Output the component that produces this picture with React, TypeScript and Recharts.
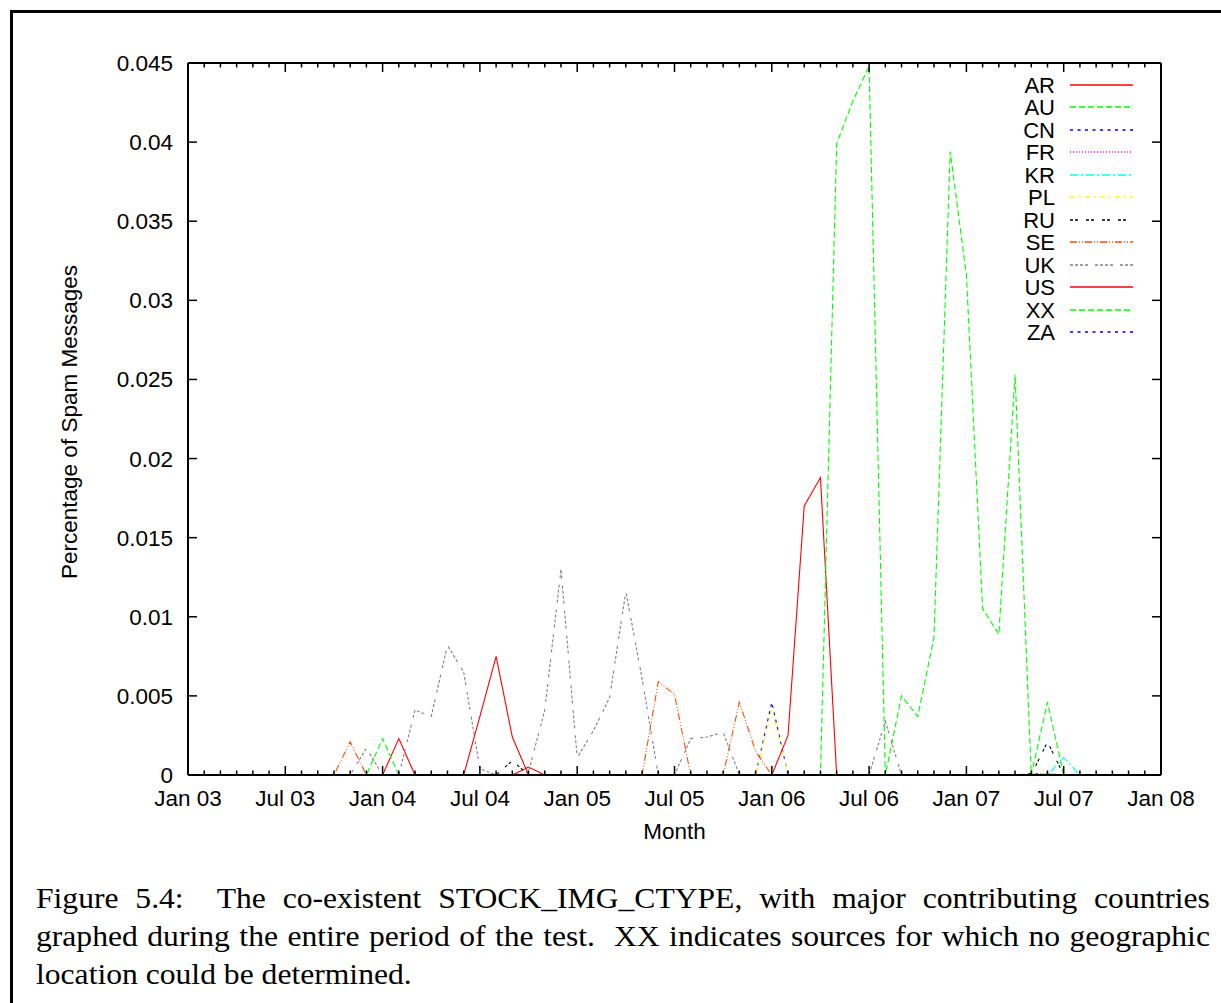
import { LineChart, Line, XAxis, YAxis } from 'recharts';

// x axis: months since Jan 03 (0 .. 60)
const MONTH_LABELS = ['Jan 03', 'Jul 03', 'Jan 04', 'Jul 04', 'Jan 05', 'Jul 05', 'Jan 06', 'Jul 06', 'Jan 07', 'Jul 07', 'Jan 08'];
const MONTH_TICKS = Array.from({ length: 61 }, (_, i) => i);
const Y_TICKS = [0, 0.005, 0.01, 0.015, 0.02, 0.025, 0.03, 0.035, 0.04, 0.045];
const Y_TICK_LABELS = ['0', '0.005', '0.01', '0.015', '0.02', '0.025', '0.03', '0.035', '0.04', '0.045'];

// one value per month, Jan 03 .. Sep 07 (one row per year)
const AR = [
  0, 0, 0, 0, 0, 0, 0, 0, 0, 0, 0, 0,
  0, 0.0023, 0, 0, 0, 0, 0, 0, 0, 0.0005, 0, 0,
  0, 0, 0, 0, 0, 0, 0, 0, 0, 0, 0, 0,
  0, 0, 0, 0, 0, 0, 0, 0, 0, 0, 0, 0,
  0, 0, 0, 0, 0, 0, 0, 0, 0,
];
const AU = [
  0, 0, 0, 0, 0, 0, 0, 0, 0, 0, 0, 0,
  0.0023, 0, 0, 0, 0, 0, 0, 0, 0, 0, 0, 0,
  0, 0, 0, 0, 0, 0, 0, 0, 0, 0, 0, 0,
  0, 0, 0, 0, 0, 0, 0, 0, 0, 0, 0, 0,
  0, 0, 0, 0, 0, 0, 0, 0, 0,
];
const CN = [
  0, 0, 0, 0, 0, 0, 0, 0, 0, 0, 0, 0,
  0, 0, 0, 0, 0, 0, 0, 0, 0, 0, 0, 0,
  0, 0, 0, 0, 0, 0, 0, 0, 0, 0, 0, 0,
  0.0046, 0, 0, 0, 0, 0, 0, 0, 0, 0, 0, 0,
  0, 0, 0, 0, 0, 0, 0, 0, 0,
];
const FR = [
  0, 0, 0, 0, 0, 0, 0, 0, 0, 0, 0, 0,
  0, 0, 0, 0, 0, 0, 0, 0, 0, 0, 0, 0,
  0, 0, 0, 0, 0, 0, 0, 0, 0, 0, 0, 0,
  0, 0, 0, 0, 0, 0, 0, 0, 0, 0, 0, 0,
  0, 0, 0, 0, 0, 0.0001, 0, 0, 0,
];
const KR = [
  0, 0, 0, 0, 0, 0, 0, 0, 0, 0, 0, 0,
  0, 0, 0, 0, 0, 0, 0, 0, 0, 0, 0, 0,
  0, 0, 0, 0, 0, 0, 0, 0, 0, 0, 0, 0,
  0, 0, 0, 0, 0, 0, 0, 0, 0, 0, 0, 0,
  0, 0, 0, 0, 0, 0, 0.0011, 0, 0,
];
const PL = [
  0, 0, 0, 0, 0, 0, 0, 0, 0, 0, 0, 0,
  0, 0, 0, 0, 0, 0, 0, 0, 0, 0, 0, 0,
  0, 0, 0, 0, 0, 0, 0, 0, 0, 0, 0, 0,
  0.0041, 0, 0, 0, 0, 0, 0, 0, 0, 0, 0, 0,
  0, 0, 0, 0, 0, 0, 0, 0, 0,
];
const RU = [
  0, 0, 0, 0, 0, 0, 0, 0, 0, 0, 0, 0,
  0, 0, 0, 0, 0, 0, 0, 0, 0.0009, 0, 0, 0,
  0, 0, 0, 0, 0, 0, 0, 0, 0, 0, 0, 0,
  0, 0, 0, 0, 0, 0, 0, 0, 0, 0, 0, 0,
  0, 0, 0, 0, 0, 0.0021, 0, 0, 0,
];
const SE = [
  0, 0, 0, 0, 0, 0, 0, 0, 0, 0, 0.0021, 0,
  0, 0, 0, 0, 0, 0, 0, 0, 0, 0, 0, 0,
  0, 0, 0, 0, 0, 0.0059, 0.0051, 0, 0, 0, 0.0046, 0.0015,
  0, 0, 0, 0, 0, 0, 0, 0, 0, 0, 0, 0,
  0, 0, 0, 0, 0, 0, 0, 0, 0,
];
const UK = [
  0, 0, 0, 0, 0, 0, 0, 0, 0, 0, 0, 0.0017,
  0, 0, 0.0041, 0.0037, 0.0082, 0.0065, 0.0004, 0, 0, 0.0002, 0.0041, 0.013,
  0.0011, 0.0028, 0.0049, 0.0116, 0.0061, 0, 0, 0.0023, 0.0024, 0.0027, 0, 0,
  0, 0, 0, 0, 0, 0, 0, 0.0034, 0, 0, 0, 0,
  0, 0, 0, 0, 0, 0, 0, 0, 0,
];
const US = [
  0, 0, 0, 0, 0, 0, 0, 0, 0, 0, 0, 0,
  0, 0, 0, 0, 0, 0, 0.0037, 0.0075, 0.0024, 0, 0, 0,
  0, 0, 0, 0, 0, 0, 0, 0, 0, 0, 0, 0,
  0, 0.0025, 0.017, 0.0188, 0, 0, 0, 0, 0, 0, 0, 0,
  0, 0, 0, 0, 0, 0, 0, 0, 0,
];
const XX = [
  0, 0, 0, 0, 0, 0, 0, 0, 0, 0, 0, 0,
  0, 0, 0, 0, 0, 0, 0, 0, 0, 0, 0, 0,
  0, 0, 0, 0, 0, 0, 0, 0, 0, 0, 0, 0,
  0, 0, 0, 0, 0.0399, 0.0426, 0.0448, 0, 0.005, 0.0037, 0.0087, 0.0394,
  0.0316, 0.0105, 0.0089, 0.0253, 0, 0.0046, 0, 0, 0,
];
const ZA = [
  0, 0, 0, 0, 0, 0, 0, 0, 0, 0, 0, 0,
  0, 0, 0, 0, 0, 0, 0, 0, 0, 0, 0, 0,
  0, 0, 0, 0, 0, 0, 0, 0, 0, 0, 0, 0,
  0, 0, 0, 0, 0, 0, 0, 0, 0, 0, 0, 0,
  0, 0, 0, 0, 0.0001, 0, 0, 0, 0,
];

const SERIES = [
  { key: 'AR', values: AR, color: '#ff0000', dash: undefined },
  { key: 'AU', values: AU, color: '#00ff00', dash: '6 3' },
  { key: 'CN', values: CN, color: '#0000ff', dash: '3 4.5' },
  { key: 'FR', values: FR, color: '#ff00ff', dash: '1 2' },
  { key: 'KR', values: KR, color: '#00ffff', dash: '8 3 2 3' },
  { key: 'PL', values: PL, color: '#ffff00', dash: '5 4 2 4' },
  { key: 'RU', values: RU, color: '#000000', dash: '3 2 3 8' },
  { key: 'SE', values: SE, color: '#ff4d00', dash: '7 2 1 2 1 2' },
  { key: 'UK', values: UK, color: '#808080', dash: '3 2 3 2 3 2 3 7' },
  { key: 'US', values: US, color: '#ff0000', dash: undefined },
  { key: 'XX', values: XX, color: '#00ff00', dash: '6 3' },
  { key: 'ZA', values: ZA, color: '#0000ff', dash: '3 4.5' },
];

const chartData = AR.map((_, m) => {
  const row: Record<string, number> = { month: m };
  for (const s of SERIES) row[s.key] = s.values[m];
  return row;
});

const FONT = '"Liberation Sans", Arial, Helvetica, sans-serif';
const FS = 22.5;

const BottomTick = (props: any) => {
  const { x, y, payload } = props;
  const major = payload.value % 6 === 0;
  return (
    <g>
      <line x1={x} x2={x} y1={y} y2={y - (major ? 9 : 4.5)} stroke="#000" strokeWidth={1.5} />
      {major && (
        <text x={x} y={y + 31} textAnchor="middle" fontFamily={FONT} fontSize={FS} fill="#000">
          {MONTH_LABELS[payload.value / 6]}
        </text>
      )}
    </g>
  );
};

const TopTick = (props: any) => {
  const { x, y, payload } = props;
  const major = payload.value % 6 === 0;
  return <line x1={x} x2={x} y1={y} y2={y + (major ? 9 : 4.5)} stroke="#000" strokeWidth={1.5} />;
};

const LeftTick = (props: any) => {
  const { x, y, payload } = props;
  const i = Y_TICKS.indexOf(payload.value);
  return (
    <g>
      <line x1={x} x2={x + 9} y1={y} y2={y} stroke="#000" strokeWidth={1.5} />
      <text x={x - 15} y={y + 8} textAnchor="end" fontFamily={FONT} fontSize={FS} fill="#000">
        {Y_TICK_LABELS[i]}
      </text>
    </g>
  );
};

const RightTick = (props: any) => {
  const { x, y } = props;
  return <line x1={x} x2={x - 9} y1={y} y2={y} stroke="#000" strokeWidth={1.5} />;
};

const axisLine = { stroke: '#000', strokeWidth: 2 };

export default function App() {
  return (
    <div style={{ position: 'absolute', left: 0, top: 0, width: 1221, height: 1003, overflow: 'hidden', background: '#fff' }}>
      <div
        style={{
          position: 'absolute',
          left: 10,
          top: 10,
          width: 1400,
          height: 1200,
          borderLeft: '3px solid #000',
          borderTop: '3px solid #000',
        }}
      />
      <div style={{ position: 'absolute', left: 0, top: 0 }}>
        <LineChart width={1221} height={1003} data={chartData} margin={{ top: 62, right: 59, bottom: 227, left: 187 }}>
          {SERIES.map((s) => (
            <Line
              key={s.key}
              xAxisId="bottom"
              yAxisId="left"
              type="linear"
              dataKey={s.key}
              stroke={s.color}
              strokeWidth={1.1}
              strokeDasharray={s.dash}
              dot={false}
              activeDot={false}
              isAnimationActive={false}
            />
          ))}
          <XAxis
            xAxisId="bottom"
            dataKey="month"
            type="number"
            domain={[0, 60]}
            ticks={MONTH_TICKS}
            interval={0}
            height={1}
            tickSize={0}
            tickMargin={0}
            tickLine={false}
            tick={<BottomTick />}
            axisLine={axisLine}
            allowDataOverflow
          />
          <XAxis
            xAxisId="top"
            orientation="top"
            dataKey="month"
            type="number"
            domain={[0, 60]}
            ticks={MONTH_TICKS}
            interval={0}
            height={1}
            tickSize={0}
            tickMargin={0}
            tickLine={false}
            tick={<TopTick />}
            axisLine={axisLine}
            allowDataOverflow
          />
          <YAxis
            yAxisId="left"
            type="number"
            domain={[0, 0.045]}
            ticks={Y_TICKS}
            interval={0}
            width={1}
            tickSize={0}
            tickMargin={0}
            tickLine={false}
            tick={<LeftTick />}
            axisLine={axisLine}
            allowDataOverflow
          />
          <YAxis
            yAxisId="right"
            orientation="right"
            type="number"
            domain={[0, 0.045]}
            ticks={Y_TICKS}
            interval={0}
            width={1}
            tickSize={0}
            tickMargin={0}
            tickLine={false}
            tick={<RightTick />}
            axisLine={axisLine}
            allowDataOverflow
          />
        </LineChart>
      </div>
      <svg width={1221} height={1003} style={{ position: 'absolute', left: 0, top: 0, pointerEvents: 'none' }}>
        <text x={77} y={422} transform="rotate(-90 77 422)" textAnchor="middle" fontFamily={FONT} fontSize={FS} fill="#000">
          Percentage of Spam Messages
        </text>
        <text x={674.5} y={839} textAnchor="middle" fontFamily={FONT} fontSize={FS} fill="#000">
          Month
        </text>
        {SERIES.map((s, i) => {
          const cy = Math.round(85 + i * 22.45);
          return (
            <g key={s.key}>
              <text x={1055} y={cy + 7.5} textAnchor="end" fontFamily={FONT} fontSize={22} fill="#000">
                {s.key}
              </text>
              <line x1={1070} x2={1133} y1={cy} y2={cy} stroke={s.color} strokeWidth={1.6} strokeDasharray={s.dash} />
            </g>
          );
        })}
      </svg>
      <div
        style={{
          position: 'absolute',
          left: 36,
          top: 879,
          width: 1077,
          transform: 'scaleX(1.09)',
          transformOrigin: '0 0',
          fontFamily: '"Liberation Serif", "Times New Roman", serif',
          fontSize: 29,
          lineHeight: '38px',
          color: '#000',
        }}
      >
        <div style={{ textAlign: 'justify', textAlignLast: 'justify', whiteSpace: 'nowrap' }}>
          Figure 5.4:&nbsp; The co-existent STOCK_IMG_CTYPE, with major contributing countries
        </div>
        <div style={{ textAlign: 'justify', textAlignLast: 'justify', whiteSpace: 'nowrap' }}>
          graphed during the entire period of the test.&nbsp; XX indicates sources for which no geographic
        </div>
        <div style={{ whiteSpace: 'nowrap' }}>location could be determined.</div>
      </div>
    </div>
  );
}
